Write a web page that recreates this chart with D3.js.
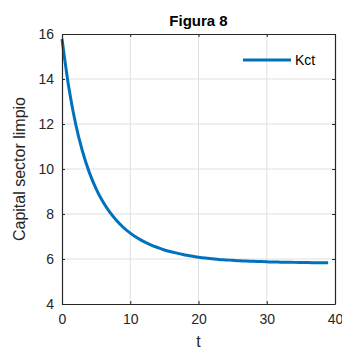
<!DOCTYPE html>
<html>
<head>
<meta charset="utf-8">
<script src="https://cdn.jsdelivr.net/npm/d3@7"></script>
<style>
  body { margin: 0; background: #fff; }
  svg { display: block; font-family: "Liberation Sans", Arial, sans-serif; }
</style>
</head>
<body>
<div id="chart"></div>
<script>
// valores (t = 0..39)
const tValues = d3.range(0, 40);
const kctValues = [
  15.78, 13.62, 12.0, 10.79, 9.85, 9.12, 8.54, 8.08, 7.71, 7.4,
  7.15, 6.94, 6.77, 6.63, 6.51, 6.4, 6.32, 6.25, 6.18, 6.13,
  6.08, 6.04, 6.01, 5.98, 5.96, 5.94, 5.92, 5.91, 5.895, 5.885,
  5.875, 5.865, 5.86, 5.855, 5.85, 5.845, 5.84, 5.837, 5.834, 5.83
];
const xTicks = [0, 10, 20, 30, 40];
const yTicks = [4, 6, 8, 10, 12, 14, 16];
const seriesName = 'Kct';

const width = 342, height = 352;
const plotLeft = 62, plotRight = 335, plotTop = 34, plotBottom = 304;
const axisColor = '#262626';
const lineColor = '#0072BD';

const svg = d3.select('#chart').append('svg')
  .attr('width', width)
  .attr('height', height);

const x = d3.scaleLinear().domain([0, 40]).range([plotLeft, plotRight]);
const y = d3.scaleLinear().domain([4, 16]).range([plotBottom, plotTop]);

// grilla
svg.append('g')
  .selectAll('line')
  .data(xTicks.slice(1, -1))
  .enter()
  .append('line')
  .attr('x1', d => x(d)).attr('x2', d => x(d))
  .attr('y1', plotTop).attr('y2', plotBottom)
  .attr('stroke', '#dfdfdf').attr('stroke-width', 1);

svg.append('g')
  .selectAll('line')
  .data(yTicks.slice(1, -1))
  .enter()
  .append('line')
  .attr('x1', plotLeft).attr('x2', plotRight)
  .attr('y1', d => y(d)).attr('y2', d => y(d))
  .attr('stroke', '#dfdfdf').attr('stroke-width', 1);

// curva
const line = d3.line()
  .x((d, i) => x(tValues[i]))
  .y(d => y(d))
  .curve(d3.curveMonotoneX);

svg.append('path')
  .datum(kctValues)
  .attr('d', line)
  .attr('fill', 'none')
  .attr('stroke', lineColor)
  .attr('stroke-width', 3);

// ejes (ticks hacia adentro, en los cuatro lados)
function styleAxis(g) {
  g.select('.domain').attr('stroke', axisColor).attr('stroke-width', 1.2);
  g.selectAll('.tick line').attr('stroke', axisColor);
  g.selectAll('.tick text').attr('fill', axisColor).style('font-size', '14px');
}

svg.append('g')
  .attr('transform', `translate(0,${plotBottom})`)
  .call(d3.axisBottom(x).tickValues(xTicks).tickSizeInner(-3).tickSizeOuter(0).tickPadding(10))
  .call(styleAxis);

svg.append('g')
  .attr('transform', `translate(0,${plotTop})`)
  .call(d3.axisTop(x).tickValues(xTicks).tickSizeInner(-3).tickSizeOuter(0).tickFormat(''))
  .call(styleAxis);

svg.append('g')
  .attr('transform', `translate(${plotLeft},0)`)
  .call(d3.axisLeft(y).tickValues(yTicks).tickSizeInner(-3).tickSizeOuter(0).tickPadding(8))
  .call(styleAxis);

svg.append('g')
  .attr('transform', `translate(${plotRight},0)`)
  .call(d3.axisRight(y).tickValues(yTicks).tickSizeInner(-3).tickSizeOuter(0).tickFormat(''))
  .call(styleAxis);

// textos
svg.append('text')
  .attr('x', (plotLeft + plotRight) / 2).attr('y', 26)
  .attr('text-anchor', 'middle')
  .style('font-size', '15px').style('font-weight', 'bold')
  .attr('fill', '#000')
  .text('Figura 8');

svg.append('text')
  .attr('x', (plotLeft + plotRight) / 2).attr('y', 347)
  .attr('text-anchor', 'middle')
  .style('font-size', '16px')
  .attr('fill', axisColor)
  .text('t');

svg.append('text')
  .attr('transform', `translate(25,${(plotTop + plotBottom) / 2}) rotate(-90)`)
  .attr('text-anchor', 'middle')
  .style('font-size', '16px')
  .attr('fill', axisColor)
  .text('Capital sector limpio');

// leyenda
const legend = svg.append('g');
legend.append('line')
  .attr('x1', 243).attr('x2', 291)
  .attr('y1', 60).attr('y2', 60)
  .attr('stroke', lineColor).attr('stroke-width', 3);
legend.append('text')
  .attr('x', 295).attr('y', 65)
  .style('font-size', '14px')
  .attr('fill', '#000')
  .text(seriesName);
</script>
</body>
</html>
